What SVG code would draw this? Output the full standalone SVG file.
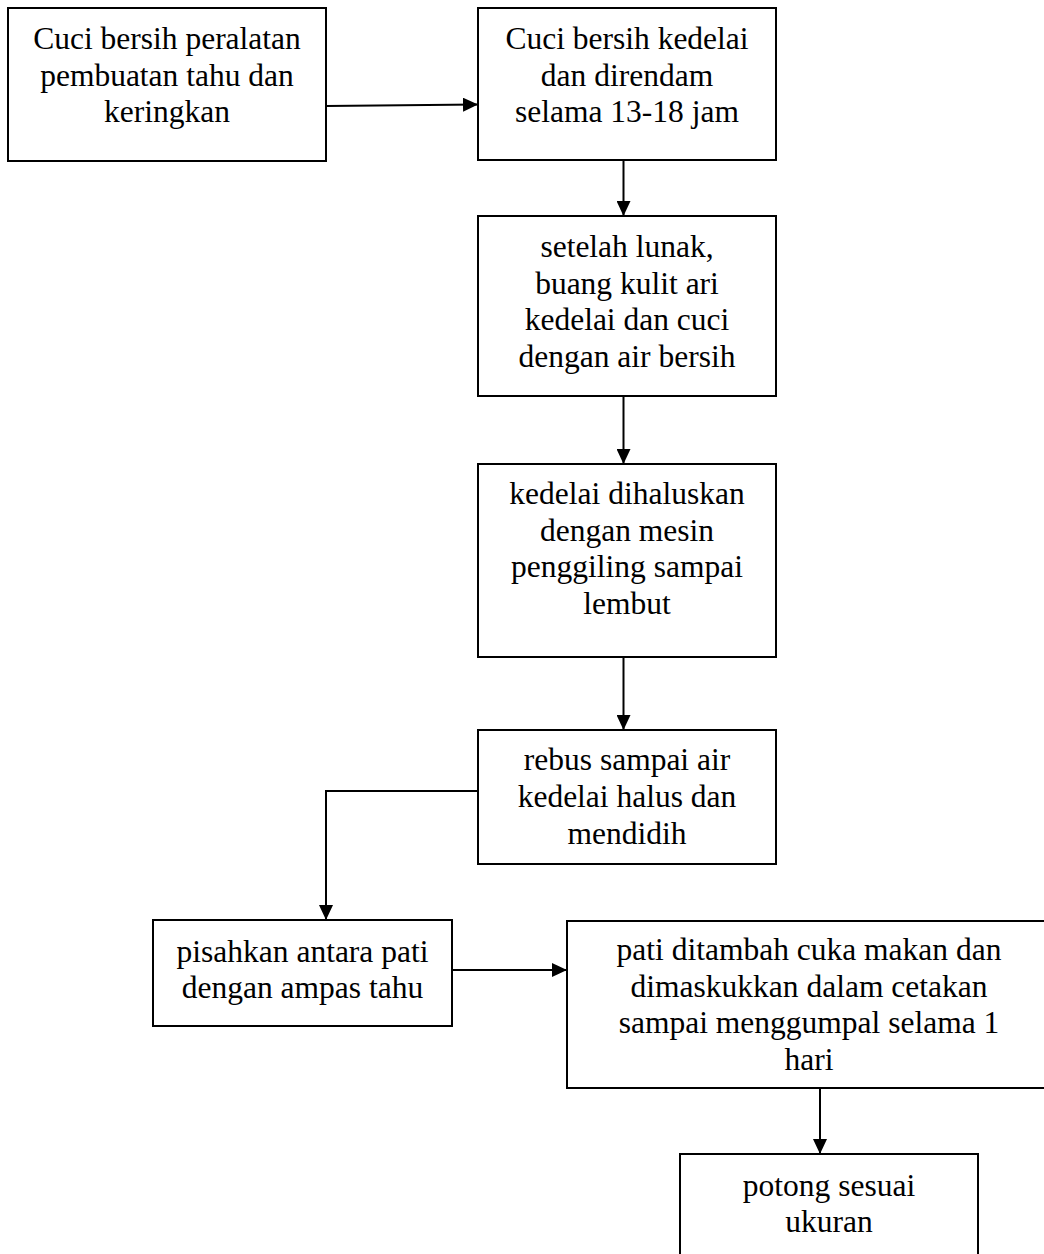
<svg xmlns="http://www.w3.org/2000/svg" width="1044" height="1254" viewBox="0 0 1044 1254">
<style>
.box{fill:#fff;stroke:#000;stroke-width:2}
.t{font-family:"Liberation Serif","Times New Roman",serif;font-size:31.5px;fill:#000;text-anchor:middle}
.c{fill:none;stroke:#000;stroke-width:2}
</style>
<defs>
<marker id="ah" viewBox="0 0 15 14" refX="15" refY="7" markerWidth="15" markerHeight="14" markerUnits="userSpaceOnUse" orient="auto">
<path d="M0,0 L15,7 L0,14 Z" fill="#000"/>
</marker>
</defs>
<rect width="1044" height="1254" fill="#fff"/>
<g id="connectors">
<path class="c" d="M326,106 L478,104.5" marker-end="url(#ah)"/>
<path class="c" d="M623.5,160 L623.5,216" marker-end="url(#ah)"/>
<path class="c" d="M623.5,396 L623.5,464" marker-end="url(#ah)"/>
<path class="c" d="M623.5,657 L623.5,730" marker-end="url(#ah)"/>
<path class="c" d="M478,791 L326,791 L326,920" marker-end="url(#ah)"/>
<path class="c" d="M452,970 L567,970" marker-end="url(#ah)"/>
<path class="c" d="M820,1088 L820,1154" marker-end="url(#ah)"/>
</g>
<g id="n1">
<rect class="box" x="8" y="8" width="318" height="153"/>
<text class="t" x="167" y="49">Cuci bersih peralatan</text>
<text class="t" x="167" y="85.5">pembuatan tahu dan</text>
<text class="t" x="167" y="122">keringkan</text>
</g>
<g id="n2">
<rect class="box" x="478" y="8" width="298" height="152"/>
<text class="t" x="627" y="49">Cuci bersih kedelai</text>
<text class="t" x="627" y="85.5">dan direndam</text>
<text class="t" x="627" y="122">selama 13-18 jam</text>
</g>
<g id="n3">
<rect class="box" x="478" y="216" width="298" height="180"/>
<text class="t" x="627" y="257">setelah lunak,</text>
<text class="t" x="627" y="293.5">buang kulit ari</text>
<text class="t" x="627" y="330">kedelai dan cuci</text>
<text class="t" x="627" y="367">dengan air bersih</text>
</g>
<g id="n4">
<rect class="box" x="478" y="464" width="298" height="193"/>
<text class="t" x="627" y="504">kedelai dihaluskan</text>
<text class="t" x="627" y="540.5">dengan mesin</text>
<text class="t" x="627" y="577">penggiling sampai</text>
<text class="t" x="627" y="614">lembut</text>
</g>
<g id="n5">
<rect class="box" x="478" y="730" width="298" height="134"/>
<text class="t" x="627" y="770">rebus sampai air</text>
<text class="t" x="627" y="807">kedelai halus dan</text>
<text class="t" x="627" y="844">mendidih</text>
</g>
<g id="n6">
<rect class="box" x="153" y="920" width="299" height="106"/>
<text class="t" x="302.5" y="962">pisahkan antara pati</text>
<text class="t" x="302.5" y="998">dengan ampas tahu</text>
</g>
<g id="n7">
<rect class="box" x="567" y="921" width="484" height="167"/>
<text class="t" x="809" y="960">pati ditambah cuka makan dan</text>
<text class="t" x="809" y="997">dimaskukkan dalam cetakan</text>
<text class="t" x="809" y="1033">sampai menggumpal selama 1</text>
<text class="t" x="809" y="1070">hari</text>
</g>
<g id="n8">
<rect class="box" x="680" y="1154" width="298" height="120"/>
<text class="t" x="829" y="1196">potong sesuai</text>
<text class="t" x="829" y="1232">ukuran</text>
</g>
</svg>
